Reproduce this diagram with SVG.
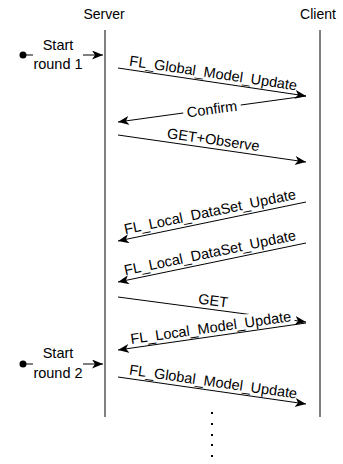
<svg xmlns="http://www.w3.org/2000/svg" width="343" height="464" viewBox="0 0 343 464">
<style>
text{font-family:"Liberation Sans",Arial,sans-serif;fill:#000}
.hdr{font-size:14px;text-anchor:middle}
.lbl{font-size:14.5px;text-anchor:middle}
.st{font-size:14.5px;text-anchor:middle}
.ln{stroke:#000;stroke-width:1;fill:none}
.msg{stroke:#000;stroke-width:1;fill:none;marker-end:url(#ah)}
.bg{fill:#fff}
</style>
<defs>
<marker id="ah" markerWidth="12" markerHeight="10" refX="11" refY="4.5" orient="auto" markerUnits="userSpaceOnUse"><path d="M0,0 L11,4.5 L0,9 L3,4.5 Z" fill="#000"/></marker>
</defs>
<g id="server"><text class="hdr" x="104" y="19">Server</text><line class="ln" x1="105" y1="30" x2="105" y2="417"/></g>
<g id="client"><text class="hdr" x="318" y="19">Client</text><line class="ln" x1="320" y1="30" x2="320" y2="417"/></g>
<g id="start1"><circle cx="23" cy="55" r="3.5" fill="#000"/><line class="ln" x1="23" y1="55" x2="33" y2="55"/><line class="msg" x1="83" y1="55" x2="103" y2="55"/><text class="st" x="58" y="50">Start</text><text class="st" x="58" y="69">round 1</text></g>
<g id="start2"><circle cx="23" cy="364" r="3.5" fill="#000"/><line class="ln" x1="23" y1="364" x2="33" y2="364"/><line class="msg" x1="83" y1="364" x2="103" y2="364"/><text class="st" x="58" y="358">Start</text><text class="st" x="58" y="378">round 2</text></g>
<g id="connectors">
<line class="msg" x1="118" y1="68" x2="306" y2="96"/>
<line class="msg" x1="306" y1="96" x2="118" y2="122"/>
<line class="msg" x1="118" y1="135" x2="306" y2="162"/>
<line class="msg" x1="306" y1="202" x2="118" y2="241"/>
<line class="msg" x1="306" y1="243" x2="118" y2="282"/>
<line class="msg" x1="118" y1="297" x2="306" y2="322"/>
<line class="msg" x1="306" y1="323" x2="118" y2="350"/>
<line class="msg" x1="118" y1="377" x2="306" y2="404"/>
</g>
<g id="labels">
<g transform="translate(212,82) rotate(8.47)"><text class="lbl" y="-4">FL_Global_Model_Update</text></g>
<g transform="translate(212,109) rotate(-7.87)"><rect class="bg" x="-29" y="-8" width="58" height="16"/><text class="lbl" y="5">Confirm</text></g>
<g transform="translate(212,148.5) rotate(8.17)"><text class="lbl" y="-4">GET+Observe</text></g>
<g transform="translate(212,221.5) rotate(-11.72)"><text class="lbl" y="-5">FL_Local_DataSet_Update</text></g>
<g transform="translate(212,262.5) rotate(-11.72)"><text class="lbl" y="-5">FL_Local_DataSet_Update</text></g>
<g transform="translate(212,309.5) rotate(7.57)"><text class="lbl" y="-4">GET</text></g>
<g transform="translate(212,336.5) rotate(-8.17)"><rect class="bg" x="-84" y="-17" width="168" height="14"/><text class="lbl" y="-4">FL_Local_Model_Update</text></g>
<g transform="translate(212,390.5) rotate(8.17)"><text class="lbl" y="-4">FL_Global_Model_Update</text></g>
</g>
<g id="ellipsis" fill="#000"><rect x="211" y="412" width="2" height="2"/><rect x="211" y="423" width="2" height="2"/><rect x="211" y="434" width="2" height="2"/><rect x="211" y="444" width="2" height="2"/><rect x="211" y="455" width="2" height="2"/></g>
</svg>
